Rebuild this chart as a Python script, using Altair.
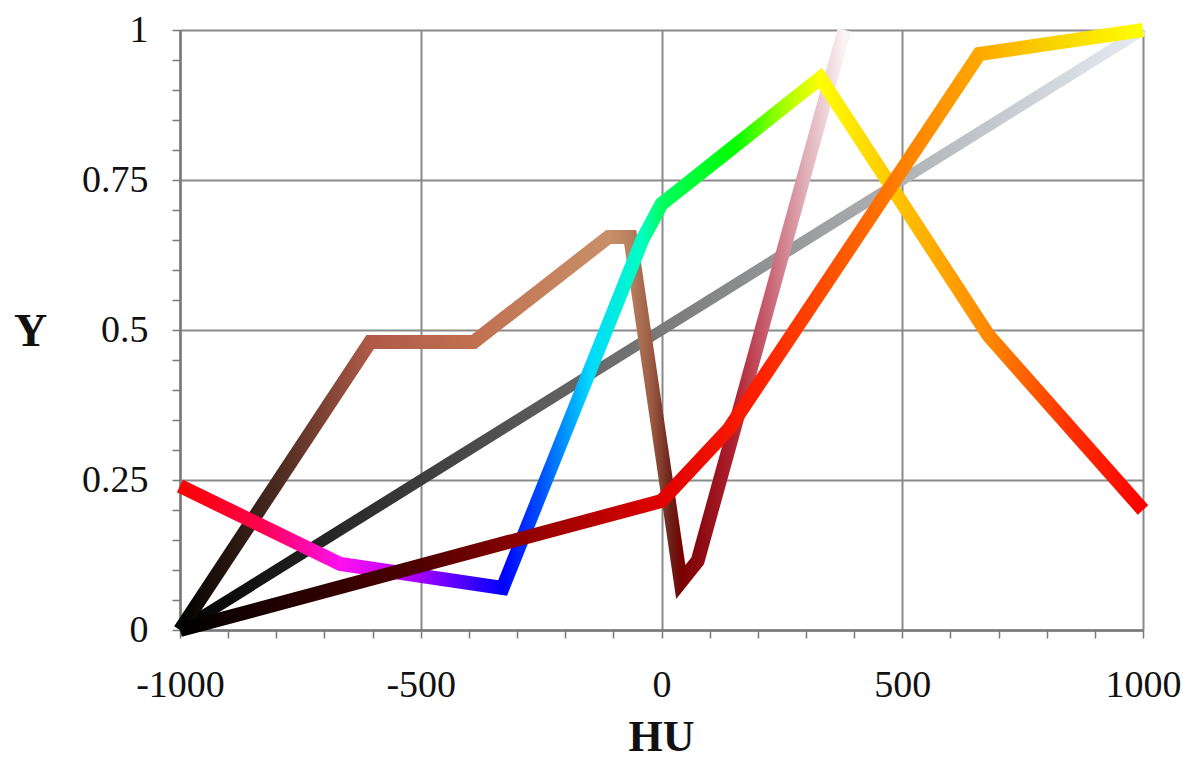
import altair as alt
import pandas as pd

# ---- data ----
hu_ticks = [-1000, -900, -800, -700, -600, -500, -400, -300, -200, -100, 0,
            100, 200, 300, 400, 500, 600, 700, 800, 900, 1000]
y_ticks = [0, 0.05, 0.1, 0.15, 0.2, 0.25, 0.3, 0.35, 0.4, 0.45, 0.5,
           0.55, 0.6, 0.65, 0.7, 0.75, 0.8, 0.85, 0.9, 0.95, 1]

gray_hu = [-1000, 1000]
gray_y = [0, 1]

iron_hu = [-1000, -605, -390, -110, -65, 40, 75, 380]
iron_y = [0, 0.48, 0.48, 0.655, 0.655, 0.08, 0.115, 1.0]

rainbow_hu = [-1000, -667, -330, -40, 0, 330, 680, 1000]
rainbow_y = [0.24, 0.11, 0.07, 0.65, 0.71, 0.92, 0.49, 0.2]

hot_hu = [-1000, 0, 140, 660, 1000]
hot_y = [0, 0.215, 0.335, 0.96, 1.0]

# colour stops along each curve (HU position, colour)
gray_stops = [(-1000, "#000000"), (0, "#7a7a7a"), (1000, "#e6ecf2")]
iron_stops = [(-1000, "#000000"), (-800, "#4a2a20"), (-605, "#b05a48"),
              (-390, "#c07050"), (-110, "#c89068"), (-65, "#b88060"),
              (-20, "#9a5a42"), (20, "#6a2018"), (42, "#7a0000"),
              (75, "#8a0810"), (150, "#b02030"), (220, "#c86070"),
              (300, "#e0b0b8"), (380, "#fbf4f6")]
rainbow_stops = [(-1000, "#ff0000"), (-830, "#ff0050"), (-667, "#ff10f0"),
                 (-500, "#a000ff"), (-330, "#0000ff"), (-250, "#0050ff"),
                 (-150, "#00d8ff"), (-40, "#00ffc0"), (0, "#00ff60"),
                 (150, "#00ff00"), (250, "#a0ff00"), (330, "#ffff00"),
                 (500, "#ffc000"), (680, "#ff8800"), (850, "#ff3000"),
                 (1000, "#ff0000")]
hot_stops = [(-1000, "#000000"), (-500, "#500000"), (0, "#e00000"),
             (200, "#ff2000"), (400, "#ff6000"), (500, "#ff8000"),
             (660, "#ffa800"), (800, "#f8d000"), (1000, "#ffff00")]


def gradient(stops, xs):
    lo, hi = min(xs), max(xs)
    return alt.Gradient(
        gradient="linear", x1=0, y1=0, x2=1, y2=0,
        stops=[alt.GradientStop(offset=(h - lo) / (hi - lo), color=c) for h, c in stops],
    )


FONT = "Liberation Serif"

x_axis = alt.Axis(
    values=hu_ticks,
    title="HU",
    labelExpr="datum.value % 500 === 0 ? '' + datum.value : ''",
    grid=True,
    gridOpacity={"condition": {"test": "datum.value % 500 === 0", "value": 1}, "value": 0},
    gridColor="#8a8a8a", gridWidth=2,
    domainColor="#7a7a7a", domainWidth=2.5,
    tickColor="#7a7a7a", tickWidth=1.5, tickSize=8,
    labelFont=FONT, labelFontSize=38, labelColor="#111111",
    labelBaseline="alphabetic", labelPadding=58,
    labelFlush=False, labelOverlap=False,
    titleFont=FONT, titleFontSize=44, titleFontWeight="bold", titleColor="#111111",
    titleX=481, titleY=120, titleBaseline="alphabetic", titleAlign="center",
)

y_axis = alt.Axis(
    values=y_ticks,
    title="Y",
    labelExpr="abs(datum.value*4 - round(datum.value*4)) < 0.001 ? format(datum.value, '.2~f') : ''",
    grid=True,
    gridOpacity={"condition": {"test": "abs(datum.value*4 - round(datum.value*4)) < 0.001", "value": 1}, "value": 0},
    gridColor="#8a8a8a", gridWidth=2,
    domainColor="#7a7a7a", domainWidth=2.5,
    tickColor="#7a7a7a", tickWidth=1.5, tickSize=8,
    labelFont=FONT, labelFontSize=38, labelColor="#111111",
    labelPadding=24, labelFlush=False, labelOverlap=False,
    titleFont=FONT, titleFontSize=46, titleFontWeight="bold", titleColor="#111111",
    titleAngle=0, titleX=-150, titleY=315, titleBaseline="alphabetic", titleAlign="center",
)

x_enc = alt.X("hu:Q", scale=alt.Scale(domain=[-1000, 1000], nice=False, zero=False), axis=x_axis)
y_enc = alt.Y("y:Q", scale=alt.Scale(domain=[0, 1], nice=False, zero=False), axis=y_axis)


def curve(xs, ys, stops, width):
    df = pd.DataFrame({"hu": xs, "y": ys})
    return alt.Chart(df).mark_line(
        stroke=gradient(stops, xs), strokeWidth=width,
        strokeJoin="miter", strokeMiterLimit=4, strokeCap="butt", clip=False,
    ).encode(x=x_enc, y=y_enc)


chart = alt.layer(
    curve(gray_hu, gray_y, gray_stops, 11),
    curve(iron_hu, iron_y, iron_stops, 14),
    curve(rainbow_hu, rainbow_y, rainbow_stops, 14),
    curve(hot_hu, hot_y, hot_stops, 14),
).properties(
    width=963, height=600,
    padding={"left": 172, "top": 22, "right": 40, "bottom": 132},
    autosize=alt.AutoSizeParams(type="none"),
    background="white",
).configure_view(strokeWidth=0)

chart.save("out.html", embed_options={"renderer": "svg", "actions": False})
